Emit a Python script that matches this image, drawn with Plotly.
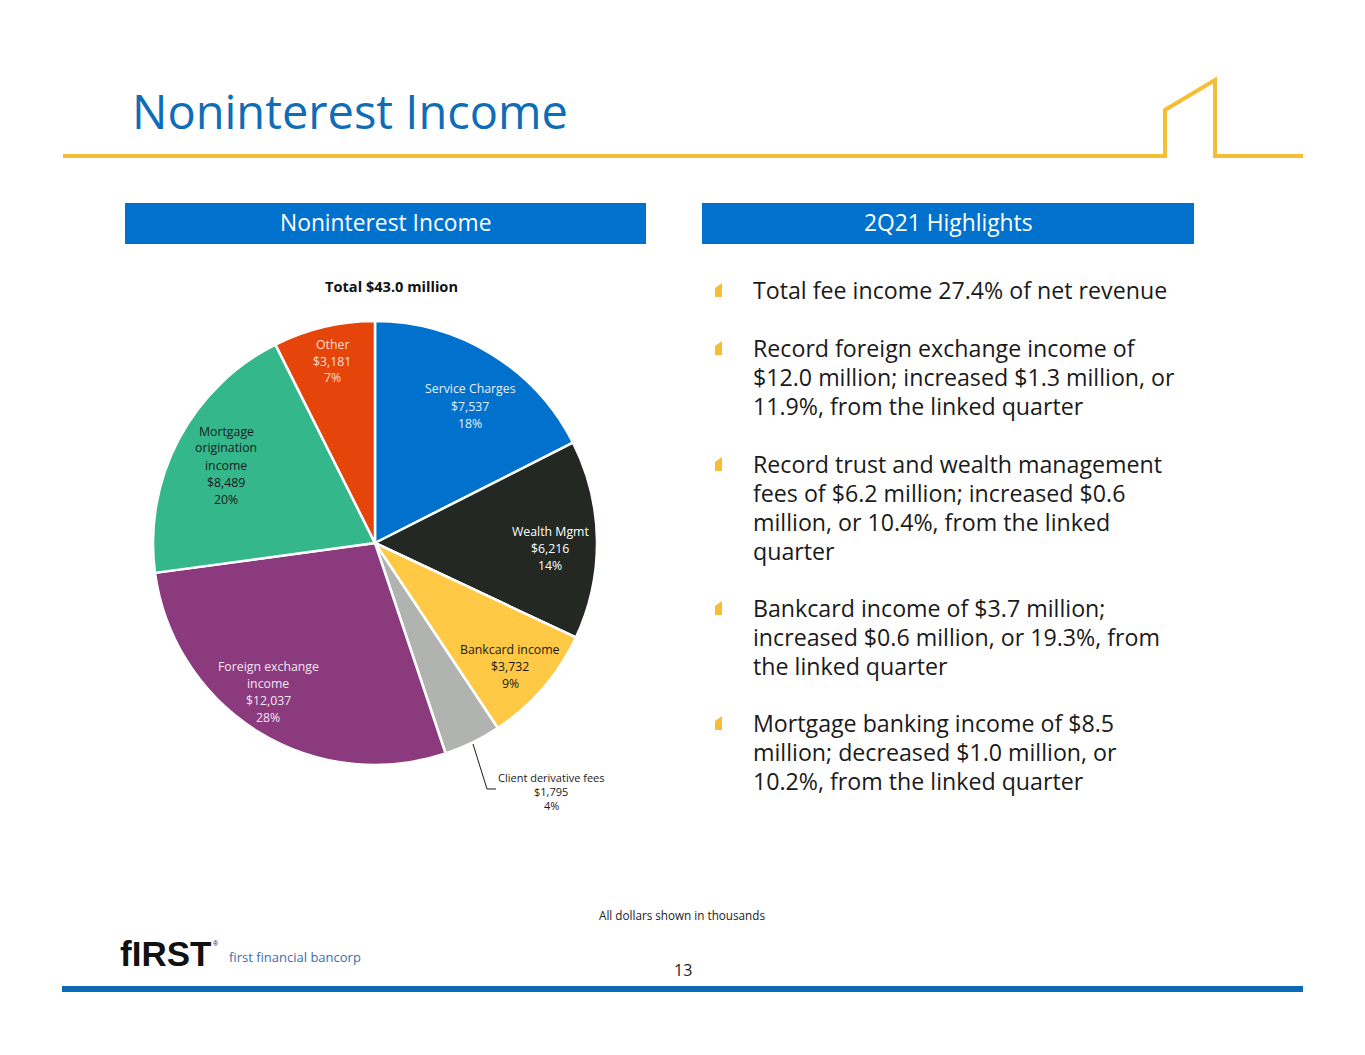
import plotly.graph_objects as go

W, H = 1365, 1055

# ---- data ----
categories = ["Service Charges", "Wealth Mgmt", "Bankcard income", "Client derivative fees",
              "Foreign exchange income", "Mortgage origination income", "Other"]
values = [7537, 6216, 3732, 1795, 12037, 8489, 3181]
percent_labels = ["18%", "14%", "9%", "4%", "28%", "20%", "7%"]
slice_colors = ["#0072CE", "#232823", "#FFC845", "#B1B3B0", "#8B3A7E", "#35B78C", "#E5450A"]

label_lines = [
    ["Service Charges", "$7,537", "18%"],
    ["Wealth Mgmt", "$6,216", "14%"],
    ["Bankcard income", "$3,732", "9%"],
    ["Client derivative fees", "$1,795", "4%"],
    ["Foreign exchange", "income", "$12,037", "28%"],
    ["Mortgage", "origination", "income", "$8,489", "20%"],
    ["Other", "$3,181", "7%"],
]
label_colors = ["#E8EEF6", "#FFFFFF", "#1A1A1A", "#1A1A1A", "#F2E6EF", "#1A1A1A", "#F8E0D6"]

bullets = [
    ["Total fee income 27.4% of net revenue"],
    ["Record foreign exchange income of",
     "$12.0 million; increased $1.3 million, or",
     "11.9%, from the linked quarter"],
    ["Record trust and wealth management",
     "fees of $6.2 million; increased $0.6",
     "million, or 10.4%, from the linked",
     "quarter"],
    ["Bankcard income of $3.7 million;",
     "increased $0.6 million, or 19.3%, from",
     "the linked quarter"],
    ["Mortgage banking income of $8.5",
     "million; decreased $1.0 million, or",
     "10.2%, from the linked quarter"],
]


def px(x):
    return x / W


def py(y):
    return 1 - y / H


fig = go.Figure()
fig.add_trace(go.Pie(
    labels=categories, values=values, sort=False, direction="clockwise", rotation=0,
    marker=dict(colors=slice_colors, line=dict(color="white", width=2.5)),
    textinfo="none", hoverinfo="label+value+percent", showlegend=False,
    domain=dict(x=[px(153), px(597)], y=[py(765), py(321)]),
))

annotations = []
shapes = []


def add_lines(lines, cx, y0, dy, size, color, family="Lato", anchor="center", bold=False):
    for i, t in enumerate(lines):
        txt = "<b>%s</b>" % t if bold else t
        annotations.append(dict(
            x=px(cx), y=py(y0 + i * dy), xref="paper", yref="paper", text=txt,
            showarrow=False, xanchor=anchor, yanchor="middle",
            font=dict(family=family, size=size, color=color)))


# slice labels (positions in pixels)
label_pos = [(470, 389), (550, 531), (510, 649), (551, 777), (268, 666), (226, 431), (332, 344)]
for i, lines in enumerate(label_lines):
    cx, cy = label_pos[i]
    if i == 3:
        add_lines(lines, cx, cy, 14, 11, label_colors[i], family="Open Sans")
    else:
        add_lines(lines, cx, cy, 17, 12.3, label_colors[i], family="Open Sans")

# leader line for small slice
shapes.append(dict(type="path", path="M %f %f L %f %f L %f %f" % (
    px(473), py(744), px(487), py(789), px(496), py(789)),
    xref="paper", yref="paper", line=dict(color="#1A1A1A", width=1)))

# Title
annotations.append(dict(x=px(130), y=py(111), xref="paper", yref="paper", text="Noninterest Income",
                        showarrow=False, xanchor="left", yanchor="middle",
                        font=dict(family="Open Sans", size=47, color="#0E6DB6")))

# yellow rule with house shape
shapes.append(dict(type="path",
                   path="M %f %f L %f %f L %f %f L %f %f L %f %f L %f %f" % (
                       px(63), py(156), px(1165), py(156), px(1165), py(110), px(1215), py(80),
                       px(1215), py(156), px(1303), py(156)),
                   xref="paper", yref="paper", line=dict(color="#F6BE35", width=4)))

# header boxes
for (x0, x1, t) in [(125, 646, "Noninterest Income"), (702, 1194, "2Q21 Highlights")]:
    shapes.append(dict(type="rect", x0=px(x0), x1=px(x1), y0=py(244), y1=py(203),
                       xref="paper", yref="paper", fillcolor="#0072CE", line=dict(width=0)))
    annotations.append(dict(x=px((x0 + x1) / 2), y=py(223), xref="paper", yref="paper", text=t,
                            showarrow=False, xanchor="center", yanchor="middle",
                            font=dict(family="Open Sans", size=22.8, color="white")))

# chart title
annotations.append(dict(x=px(392), y=py(286), xref="paper", yref="paper", text="<b>Total $43.0 million</b>",
                        showarrow=False, xanchor="center", yanchor="middle",
                        font=dict(family="Open Sans", size=14.6, color="#111111")))

# bullets
bullet_y = [290, 348, 464, 608, 723]
for yb, lines in zip(bullet_y, bullets):
    shapes.append(dict(type="path",
                       path="M %f %f L %f %f L %f %f L %f %f Z" % (
                           px(715), py(yb + 7), px(715), py(yb - 2), px(722), py(yb - 7), px(722), py(yb + 7)),
                       xref="paper", yref="paper", fillcolor="#F6BE35", line=dict(width=0)))
    add_lines(lines, 751, yb, 29, 23.2, "#1A1A1A", family="Open Sans", anchor="left")

# footnote
annotations.append(dict(x=px(682), y=py(915), xref="paper", yref="paper", text="All dollars shown in thousands",
                        showarrow=False, xanchor="center", yanchor="middle",
                        font=dict(family="Open Sans", size=11.7, color="#222222")))

# logo
annotations.append(dict(x=px(118), y=py(953), xref="paper", yref="paper", text="<b>fIRST</b>",
                        showarrow=False, xanchor="left", yanchor="middle",
                        font=dict(family="Liberation Sans", size=35, color="#111111")))
annotations.append(dict(x=px(211), y=py(943), xref="paper", yref="paper", text="®",
                        showarrow=False, xanchor="left", yanchor="middle",
                        font=dict(family="Liberation Sans", size=7, color="#111111")))
annotations.append(dict(x=px(227), y=py(957), xref="paper", yref="paper", text="first financial bancorp",
                        showarrow=False, xanchor="left", yanchor="middle",
                        font=dict(family="Open Sans", size=13, color="#3B6DB3")))

# page number
annotations.append(dict(x=px(683), y=py(970), xref="paper", yref="paper", text="13",
                        showarrow=False, xanchor="center", yanchor="middle",
                        font=dict(family="Open Sans", size=16, color="#222222")))

# bottom blue rule
shapes.append(dict(type="rect", x0=px(62), x1=px(1303), y0=py(992), y1=py(986),
                   xref="paper", yref="paper", fillcolor="#0A6AB6", line=dict(width=0)))

fig.update_layout(width=W, height=H, margin=dict(l=0, r=0, t=0, b=0),
                  paper_bgcolor="white", plot_bgcolor="white",
                  annotations=annotations, shapes=shapes)

fig.write_html("out.html", config={"displayModeBar": False},
               post_script="document.body.style.margin='0';")
